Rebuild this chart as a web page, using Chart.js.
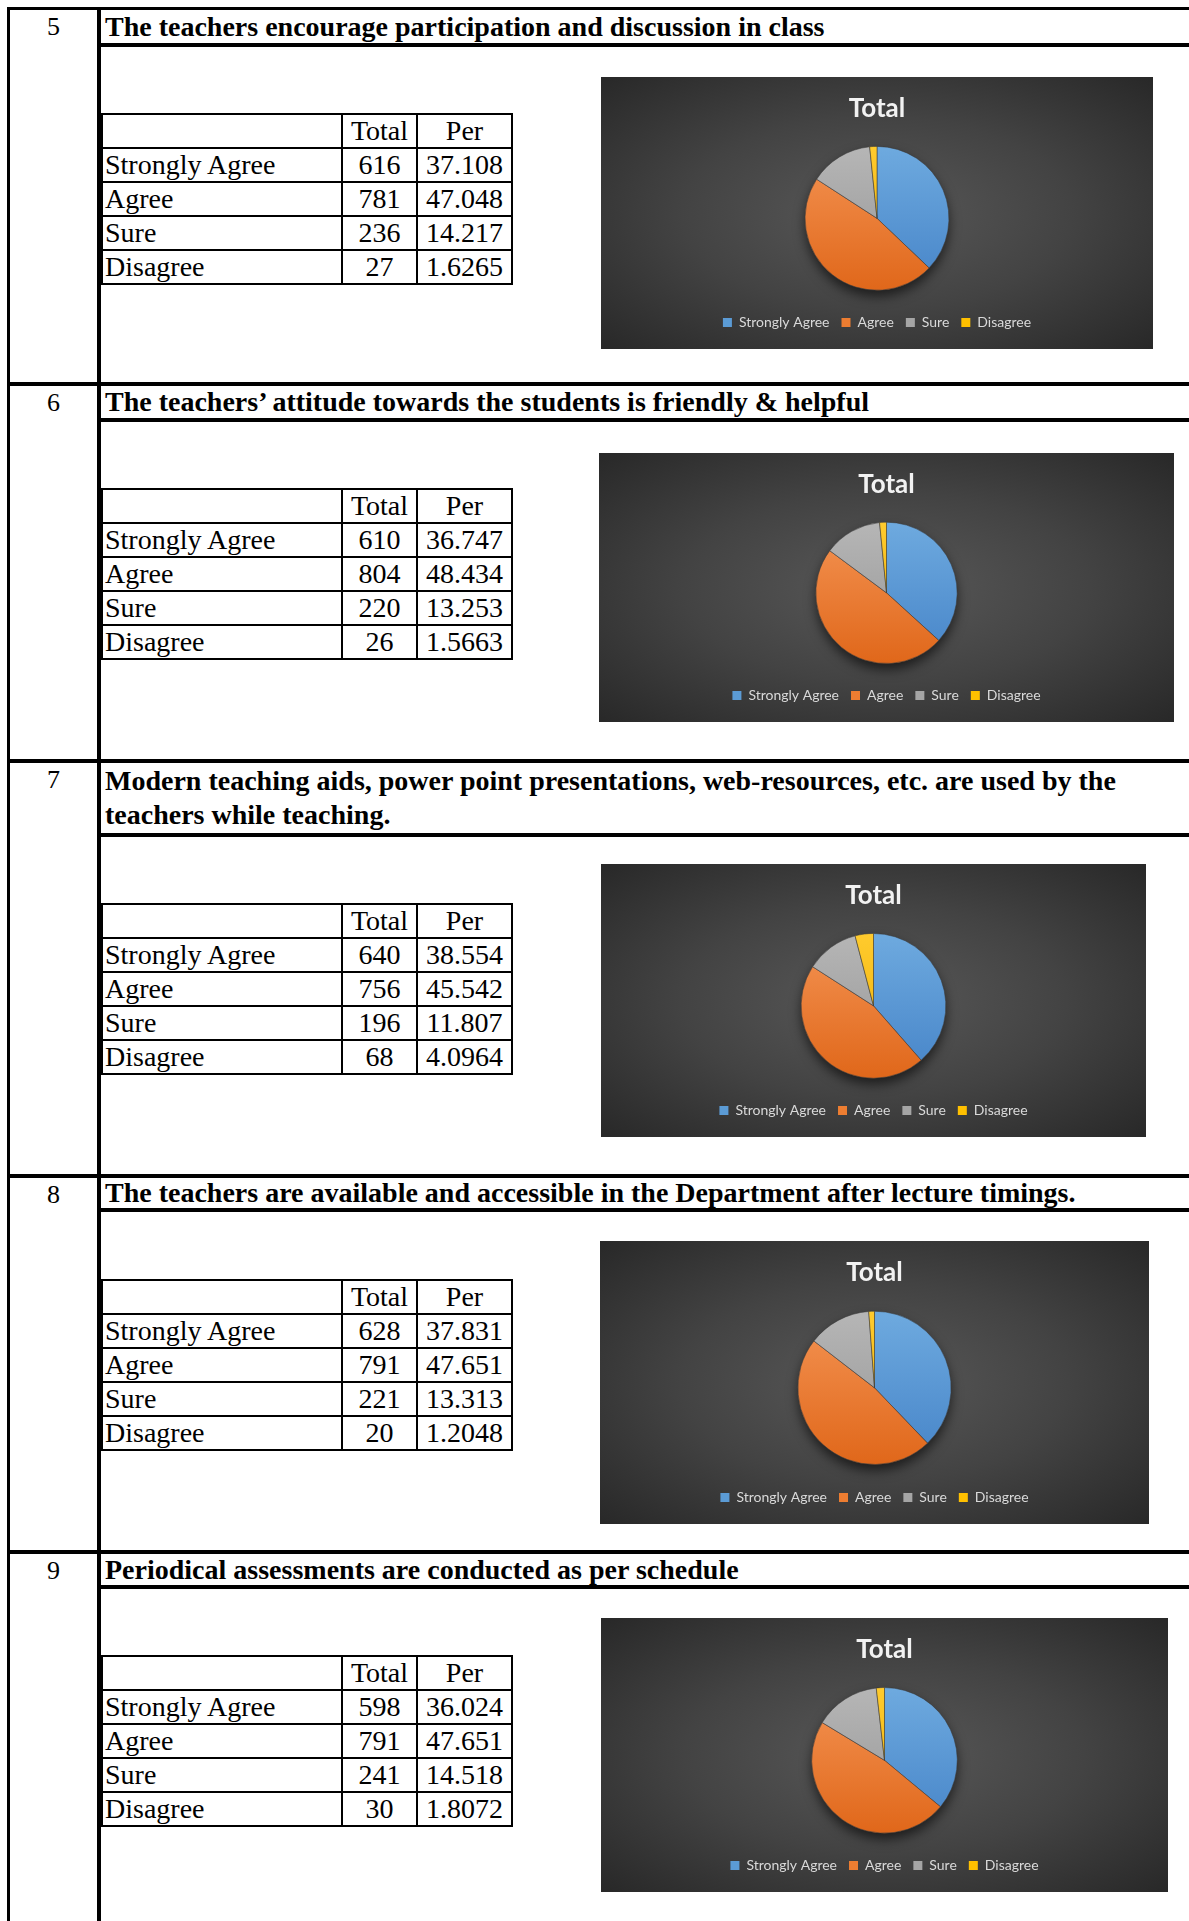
<!DOCTYPE html>
<html>
<head>
<meta charset="utf-8">
<script src="https://cdn.jsdelivr.net/npm/chart.js@4.4.1/dist/chart.umd.min.js"></script>
<style>
  html, body { margin: 0; padding: 0; background: #fff; }
  body { width: 1189px; height: 1921px; position: relative; overflow: hidden;
         font-family: 'Liberation Serif', 'Times New Roman', serif; color: #000; }
  .line { position: absolute; background: #000; }
  .num { position: absolute; left: 10px; width: 87px; text-align: center; font-size: 26px; line-height: 34px; }
  .head { position: absolute; left: 105px; right: 0; font-weight: bold; font-size: 28px; line-height: 34px;
          display: flex; flex-direction: column; justify-content: center; white-space: nowrap; }
  table.stats { position: absolute; left: 101px; border-collapse: collapse; table-layout: fixed; font-size: 28px; }
  table.stats td { border: 2px solid #000; height: 32px; padding: 0 2px; line-height: 32px;
                   text-align: center; white-space: nowrap; overflow: hidden; }
  table.stats td.lbl { text-align: left; }
  .chartBox { position: absolute;
              background: radial-gradient(ellipse at center, #585858 0%, #434343 50%, #282828 100%); }
</style>
</head>
<body>
<script>
const rowNumbers = [5, 6, 7, 8, 9];
const questions = [
    ['The teachers encourage participation and discussion in class'],
    ['The teachers\u2019 attitude towards the students is friendly & helpful'],
    ['Modern teaching aids, power point presentations, web-resources, etc. are used by the', 'teachers while teaching.'],
    ['The teachers are available and accessible in the Department after lecture timings.'],
    ['Periodical assessments are conducted as per schedule']
];
const categories = ['Strongly Agree', 'Agree', 'Sure', 'Disagree'];
const tableHeads = ['', 'Total', 'Per'];
const chartTitle = 'Total';

const totals = [
    [616, 781, 236, 27],
    [610, 804, 220, 26],
    [640, 756, 196, 68],
    [628, 791, 221, 20],
    [598, 791, 241, 30]
];
const percents = [
    ['37.108', '47.048', '14.217', '1.6265'],
    ['36.747', '48.434', '13.253', '1.5663'],
    ['38.554', '45.542', '11.807', '4.0964'],
    ['37.831', '47.651', '13.313', '1.2048'],
    ['36.024', '47.651', '14.518', '1.8072']
];

// page geometry (px)
const rowLines = [382, 759, 1174, 1550];
const headLines = [43, 418, 833, 1208, 1585];
const bandTops = [10, 386, 763, 1178, 1554];
const tableTops = [113, 488, 903, 1279, 1655];
const chartBoxes = [
    [601, 77, 552, 272],
    [599, 453, 575, 269],
    [601, 864, 545, 273],
    [600, 1241, 549, 283],
    [601, 1618, 567, 274]
];

const legendColors = ['#5b9bd5', '#ed7d31', '#a5a5a5', '#ffc000'];
const sliceTop = ['#6eaadf', '#f49454', '#b6b6b6', '#ffcb2e'];
const sliceBottom = ['#4684c8', '#e0671a', '#959595', '#eeae00'];

const addLine = (x, y, w, h) => {
    const d = document.createElement('div');
    d.className = 'line';
    Object.assign(d.style, { left: x + 'px', top: y + 'px', width: w + 'px', height: h + 'px' });
    document.body.appendChild(d);
};

// outer frame
addLine(7, 7, 1182, 3);
addLine(7, 7, 3, 1914);
addLine(97, 7, 4, 1914);
rowLines.forEach(y => addLine(7, y, 1182, 4));
headLines.forEach(y => addLine(97, y, 1092, 4));

rowNumbers.forEach((n, i) => {
    const num = document.createElement('div');
    num.className = 'num';
    num.style.top = bandTops[i] + 'px';
    num.textContent = n;
    document.body.appendChild(num);

    const head = document.createElement('div');
    head.className = 'head';
    head.style.top = bandTops[i] + 'px';
    head.style.height = (headLines[i] - bandTops[i]) + 'px';
    questions[i].forEach(t => {
        const s = document.createElement('div');
        s.textContent = t;
        head.appendChild(s);
    });
    document.body.appendChild(head);

    const table = document.createElement('table');
    table.className = 'stats';
    table.style.top = tableTops[i] + 'px';
    table.innerHTML = '<colgroup><col style="width:240px"><col style="width:75px"><col style="width:95px"></colgroup>';
    const hr = table.insertRow();
    tableHeads.forEach(h => { hr.insertCell().textContent = h; });
    categories.forEach((c, k) => {
        const r = table.insertRow();
        const l = r.insertCell();
        l.className = 'lbl';
        l.textContent = c;
        r.insertCell().textContent = totals[i][k];
        r.insertCell().textContent = percents[i][k];
    });
    document.body.appendChild(table);
});

// soft shadow under the pie
const pieShadow = {
    id: 'pieShadow',
    beforeDatasetsDraw(chart) {
        const arc = chart.getDatasetMeta(0).data[0];
        if (!arc) return;
        const ctx = chart.ctx;
        ctx.save();
        ctx.shadowColor = 'rgba(0,0,0,0.6)';
        ctx.shadowBlur = 12;
        ctx.shadowOffsetY = 6;
        ctx.beginPath();
        ctx.arc(arc.x, arc.y, arc.outerRadius, 0, Math.PI * 2);
        ctx.fillStyle = '#3a3a3a';
        ctx.fill();
        ctx.restore();
    }
};

const sliceFill = (c) => {
    if (c.type !== 'data') return '#888';
    const k = c.dataIndex;
    const area = c.chart.chartArea;
    if (!area) return legendColors[k];
    const cy = (area.top + area.bottom) / 2;
    const r = Math.min(area.right - area.left, area.bottom - area.top) / 2 * 0.85;
    const g = c.chart.ctx.createLinearGradient(0, cy - r, 0, cy + r);
    g.addColorStop(0, sliceTop[k]);
    g.addColorStop(1, sliceBottom[k]);
    return g;
};

chartBoxes.forEach((b, i) => {
    const box = document.createElement('div');
    box.className = 'chartBox';
    Object.assign(box.style, { left: b[0] + 'px', top: b[1] + 'px', width: b[2] + 'px', height: b[3] + 'px' });
    const canvas = document.createElement('canvas');
    box.appendChild(canvas);
    document.body.appendChild(box);

    new Chart(canvas, {
        type: 'pie',
        data: {
            labels: categories,
            datasets: [{
                data: totals[i],
                backgroundColor: sliceFill,
                borderColor: 'rgba(60,60,60,0.55)',
                borderWidth: 1,
                radius: '85%'
            }]
        },
        options: {
            responsive: true,
            maintainAspectRatio: false,
            animation: false,
            layout: { padding: { bottom: 9.5 } },
            plugins: {
                title: {
                    display: true,
                    text: chartTitle,
                    color: '#f2f2f2',
                    font: { family: 'Lato', size: 26, weight: 'bold' },
                    padding: { top: 16, bottom: 9 }
                },
                legend: {
                    position: 'bottom',
                    labels: {
                        color: '#d9d9d9',
                        font: { family: 'Lato', size: 14 },
                        boxWidth: 9,
                        boxHeight: 9,
                        padding: 12,
                        generateLabels: () => categories.map((t, k) => ({
                            text: t, fillStyle: legendColors[k], strokeStyle: legendColors[k],
                            lineWidth: 0, fontColor: '#d9d9d9', hidden: false, index: k
                        }))
                    }
                },
                tooltip: { enabled: false }
            }
        },
        plugins: [pieShadow]
    });
});
</script>
</body>
</html>
